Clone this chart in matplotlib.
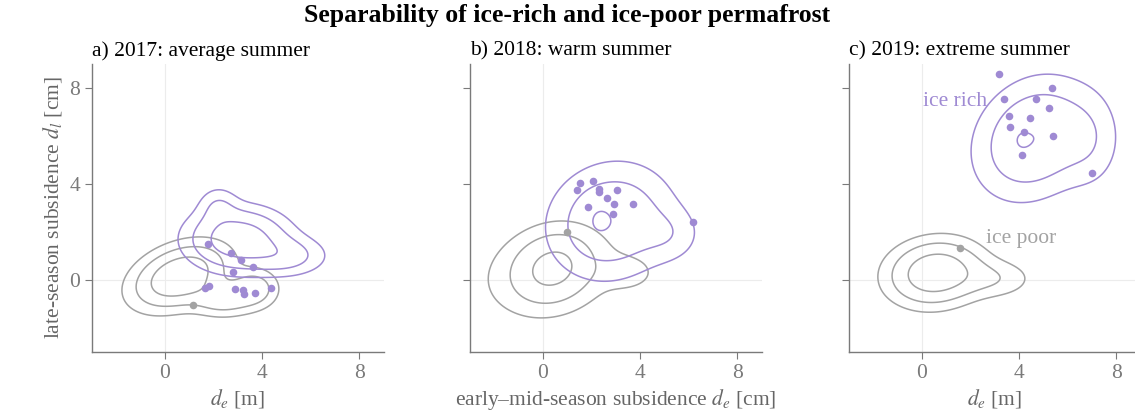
import numpy as np
import matplotlib
matplotlib.use('Agg')
import matplotlib.pyplot as plt

plt.rcParams['font.family'] = ['Liberation Serif', 'DejaVu Serif']
plt.rcParams['mathtext.fontset'] = 'stix'

# panel titles
titles = ['a) 2017: average summer', 'b) 2018: warm summer', 'c) 2019: extreme summer']
xlabels = [r'$d_e$ [m]', r'early–mid-season subsidence $d_e$ [cm]', r'$d_e$ [m]']
ticks = [0, 4, 8]

rich_x = [
    [1.76, 2.71, 3.12, 3.62, 2.80, 1.82, 1.66, 2.90, 3.21, 3.24, 3.71, 4.38],
    [1.52, 1.42, 2.06, 2.31, 2.31, 3.06, 2.62, 2.91, 1.87, 3.71, 2.88, 6.16],
    [3.17, 3.39, 4.68, 5.36, 5.24, 3.59, 4.46, 3.61, 4.21, 5.38, 4.12, 6.98],
]
rich_y = [
    [1.49, 1.13, 0.85, 0.54, 0.35, -0.24, -0.32, -0.39, -0.43, -0.57, -0.53, -0.33],
    [4.04, 3.74, 4.14, 3.78, 3.68, 3.74, 3.40, 3.15, 3.06, 3.15, 2.76, 2.40],
    [8.58, 7.53, 7.54, 8.01, 7.19, 6.83, 6.74, 6.38, 6.17, 6.00, 5.22, 4.47],
]
poor_x = [[1.16], [0.98], [1.56]]
poor_y = [[-1.03], [2.00], [1.35]]

# density model per panel: (mx, my, sx, sy, rho, weight)
poor_comp = [
    [(0.6, 0.15, 1.15, 0.8, 0.35, 1.0), (2.4, -0.8, 0.8, 0.45, 0.0, 0.45), (3.7, -0.35, 0.6, 0.5, 0.0, 0.45)],
    [(0.4, 0.5, 0.95, 0.85, 0.15, 1.0), (3.5, 0.3, 0.8, 0.5, 0.0, 0.2), (0.3, 0.35, 1.7, 1.15, 0.2, 0.35)],
    [(0.55, 0.3, 1.15, 0.8, 0.1, 1.0), (3.0, 0.05, 1.0, 0.5, 0.0, 0.25)],
]
rich_comp = [
    [(3.0, 1.7, 1.2, 0.75, 0.0, 1.0), (5.0, 1.0, 1.0, 0.5, 0.0, 0.4), (2.2, 3.1, 0.5, 0.5, 0.0, 0.25)],
    [(2.8, 2.45, 1.45, 1.35, 0.1, 1.0), (2.25, 2.5, 0.4, 0.55, 0.0, 0.25), (5.2, 1.9, 0.8, 0.7, 0.0, 0.3)],
    [(4.6, 5.9, 1.35, 1.4, 0.2, 1.0), (4.0, 5.85, 0.3, 0.4, 0.0, 0.15), (6.9, 5.8, 0.8, 1.2, 0.0, 0.3)],
]
poor_levels = [[0.12, 0.3, 0.6], [0.1, 0.3, 0.75], [0.12, 0.3, 0.62]]
rich_levels = [[0.12, 0.3, 0.65], [0.15, 0.4, 0.92], [0.15, 0.4, 0.95]]

label_rich = ('ice rich', 2.7, 7.45)
label_poor = ('ice poor', 2.65, 1.75)

purple = '#9f8ad3'
grey = '#a3a3a3'
axcol = '#7a7a7a'


def density(X, Y, comps):
    Z = np.zeros_like(X)
    for mx, my, sx, sy, rho, w in comps:
        dx = (X - mx) / sx
        dy = (Y - my) / sy
        q = (dx**2 - 2*rho*dx*dy + dy**2) / (1 - rho**2)
        Z += w * np.exp(-0.5*q)
    return Z / Z.max()


gx = np.linspace(-3, 9, 400)
gy = np.linspace(-3, 9, 400)
X, Y = np.meshgrid(gx, gy)

fig = plt.figure(figsize=(11.35, 4.19), dpi=100)
lefts = [0.081, 0.414, 0.748]
axes = []
for i in range(3):
    ax = fig.add_axes([lefts[i], 0.160, 0.257, 0.687])
    axes.append(ax)
    ax.axhline(0, color='#ececec', lw=0.8, zorder=0)
    ax.axvline(0, color='#ececec', lw=0.8, zorder=0)

    ax.contour(X, Y, density(X, Y, poor_comp[i]), levels=poor_levels[i],
               colors=grey, linewidths=1.1)
    ax.contour(X, Y, density(X, Y, rich_comp[i]), levels=rich_levels[i],
               colors=purple, linewidths=1.1)
    ax.scatter(poor_x[i], poor_y[i], s=30, color=grey, zorder=3, linewidths=0)
    ax.scatter(rich_x[i], rich_y[i], s=30, color=purple, zorder=3, linewidths=0)

    ax.set_xlim(-3, 9)
    ax.set_ylim(-3, 9)
    ax.set_xticks(ticks)
    ax.set_yticks(ticks)
    for s in ['top', 'right']:
        ax.spines[s].set_visible(False)
    for s in ['left', 'bottom']:
        ax.spines[s].set_color(axcol)
        ax.spines[s].set_linewidth(1.0)
    ax.tick_params(colors=axcol, labelsize=15.5, length=5, direction='out')
    ax.set_title(titles[i], loc='left', fontsize=15.5, pad=6)
    ax.set_xlabel(xlabels[i], fontsize=15.5, color='#666666', labelpad=3)
    if i > 0:
        ax.set_yticklabels([])

axes[0].set_ylabel(r'late-season subsidence $d_l$ [cm]', fontsize=15.5, color='#666666')
axes[2].text(label_rich[1], label_rich[2], label_rich[0], color=purple, fontsize=15.5,
             ha='right', va='center')
axes[2].text(label_poor[1], label_poor[2], label_poor[0], color=grey, fontsize=15.5,
             ha='left', va='center')

fig.suptitle('Separability of ice-rich and ice-poor permafrost', fontsize=18.5,
             fontweight='bold', y=0.99)

fig.savefig('out.png', dpi=100)
